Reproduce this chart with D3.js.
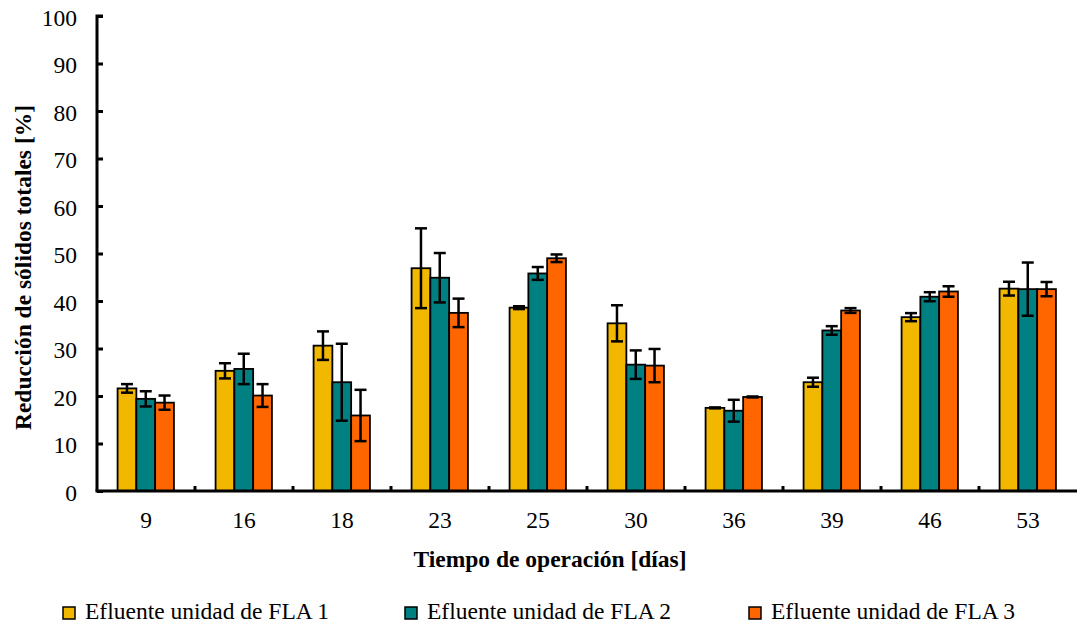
<!DOCTYPE html>
<html>
<head>
<meta charset="utf-8">
<script src="https://cdn.jsdelivr.net/npm/d3@7/dist/d3.min.js"></script>
<style>
  body { margin: 0; background: #fff; }
  text { font-family: "Liberation Serif", "Times New Roman", serif; fill: #000; }
</style>
</head>
<body>
<div id="chart"></div>
<script>
// Categories
const days = ["9", "16", "18", "23", "25", "30", "36", "39", "46", "53"];
const seriesNames = ["Efluente unidad de FLA 1", "Efluente unidad de FLA 2", "Efluente unidad de FLA 3"];
const seriesColors = ["#F2B800", "#008080", "#FF6600"];

// Series values (reduction %) and errors
const fla1 = [21.6, 25.3, 30.6, 46.9, 38.6, 35.3, 17.5, 22.9, 36.6, 42.6];
const fla1Err = [0.9, 1.6, 3.0, 8.4, 0.3, 3.8, 0.1, 0.95, 0.85, 1.45];
const fla2 = [19.4, 25.7, 22.9, 44.9, 45.8, 26.6, 16.9, 33.8, 40.9, 42.5];
const fla2Err = [1.6, 3.2, 8.1, 5.2, 1.35, 3.0, 2.3, 0.9, 0.95, 5.6];
const fla3 = [18.6, 20.1, 15.9, 37.5, 49.0, 26.4, 19.8, 38.0, 42.0, 42.5];
const fla3Err = [1.5, 2.4, 5.4, 3.0, 0.8, 3.5, 0.1, 0.5, 1.1, 1.5];

const yTicks = [0, 10, 20, 30, 40, 50, 60, 70, 80, 90, 100];

// Chart sizing
const W = 1077, H = 624;
const plotLeft = 97, plotRight = 1077, plotTop = 16, plotBottom = 491;
const fontSize = "23.5px";

const svg = d3.select("#chart")
    .append("svg")
        .attr("width", W)
        .attr("height", H);

// - - Scales - -
const x0 = d3.scaleBand()
    .domain(days)
    .range([plotLeft, plotRight]);

const x1 = d3.scaleBand()
    .domain(d3.range(seriesNames.length))
    .range([x0.bandwidth() * 0.21, x0.bandwidth() * 0.785]);

const y = d3.scaleLinear()
    .domain([0, 100])
    .range([plotBottom, plotTop]);

// Build rows from arrays
const values = [fla1, fla2, fla3];
const errors = [fla1Err, fla2Err, fla3Err];
const rows = days.map((d, i) => ({
    day: d,
    items: values.map((v, s) => ({ s: s, v: v[i], e: errors[s][i] }))
}));

// - - Bars - -
const groups = svg.append("g")
    .selectAll("g")
    .data(rows)
    .enter()
    .append("g")
        .attr("transform", d => `translate(${x0(d.day)},0)`);

groups.selectAll("rect")
    .data(d => d.items)
    .enter()
    .append("rect")
        .attr("x", d => x1(d.s))
        .attr("y", d => y(d.v))
        .attr("width", x1.bandwidth())
        .attr("height", d => y(0) - y(d.v))
        .attr("fill", d => seriesColors[d.s])
        .attr("stroke", "#000")
        .attr("stroke-width", 1.8);

// Error bars
const capW = 12;
const err = groups.selectAll("g.err")
    .data(d => d.items)
    .enter()
    .append("g")
        .attr("class", "err")
        .attr("stroke", "#000")
        .attr("stroke-width", 2.5);

err.append("line")
    .attr("x1", d => x1(d.s) + x1.bandwidth() / 2)
    .attr("x2", d => x1(d.s) + x1.bandwidth() / 2)
    .attr("y1", d => y(d.v + d.e))
    .attr("y2", d => y(d.v - d.e));

err.append("line")
    .attr("x1", d => x1(d.s) + x1.bandwidth() / 2 - capW / 2)
    .attr("x2", d => x1(d.s) + x1.bandwidth() / 2 + capW / 2)
    .attr("y1", d => y(d.v + d.e))
    .attr("y2", d => y(d.v + d.e));

err.append("line")
    .attr("x1", d => x1(d.s) + x1.bandwidth() / 2 - capW / 2)
    .attr("x2", d => x1(d.s) + x1.bandwidth() / 2 + capW / 2)
    .attr("y1", d => y(d.v - d.e))
    .attr("y2", d => y(d.v - d.e));

// - - Axes - -
const yAxis = svg.append("g")
    .attr("transform", `translate(${plotLeft},0)`)
    .call(d3.axisRight(y).tickValues(yTicks).tickSize(6).tickFormat(""));
yAxis.select(".domain").attr("d", `M6,${plotTop}H0V${plotBottom}`).attr("stroke-width", 3);
yAxis.selectAll(".tick line").attr("stroke-width", 3);

svg.append("g")
    .selectAll("text")
    .data(yTicks)
    .enter()
    .append("text")
        .attr("x", 77)
        .attr("y", d => y(d) + 9.5)
        .attr("text-anchor", "end")
        .attr("font-size", fontSize)
        .text(d => d);

const xAxis = svg.append("g")
    .attr("transform", `translate(0,${plotBottom})`)
    .call(d3.axisTop(x0).tickSize(0).tickFormat(""));
xAxis.select(".domain").attr("d", `M${plotLeft - 1.5},0H${plotRight}`).attr("stroke-width", 3);
xAxis.selectAll(".tick").remove();

// Category separators
xAxis.selectAll("line.sep")
    .data(days.slice(1))
    .enter()
    .append("line")
        .attr("class", "sep")
        .attr("x1", d => x0(d))
        .attr("x2", d => x0(d))
        .attr("y1", 0)
        .attr("y2", -5)
        .attr("stroke", "#000")
        .attr("stroke-width", 3);

svg.append("g")
    .selectAll("text")
    .data(days)
    .enter()
    .append("text")
        .attr("x", d => x0(d) + x0.bandwidth() / 2)
        .attr("y", 528)
        .attr("text-anchor", "middle")
        .attr("font-size", fontSize)
        .text(d => d);

// Axis titles
svg.append("text")
    .attr("x", 550)
    .attr("y", 567)
    .attr("text-anchor", "middle")
    .attr("font-size", fontSize)
    .attr("font-weight", "bold")
    .text("Tiempo de operación [días]");

svg.append("text")
    .attr("transform", "translate(30.5,267.5) rotate(-90)")
    .attr("text-anchor", "middle")
    .attr("font-size", fontSize)
    .attr("font-weight", "bold")
    .text("Reducción de sólidos totales [%]");

// - - Legend - -
const legendX = [63, 405, 749];
const legend = svg.append("g")
    .selectAll("g")
    .data(seriesNames)
    .enter()
    .append("g")
        .attr("transform", (d, i) => `translate(${legendX[i]},607)`);

legend.append("rect")
    .attr("width", 12)
    .attr("height", 12)
    .attr("fill", (d, i) => seriesColors[i])
    .attr("stroke", "#000")
    .attr("stroke-width", 1.5);

legend.append("text")
    .attr("x", 22)
    .attr("y", 12.3)
    .attr("font-size", fontSize)
    .text(d => d);
</script>
</body>
</html>
